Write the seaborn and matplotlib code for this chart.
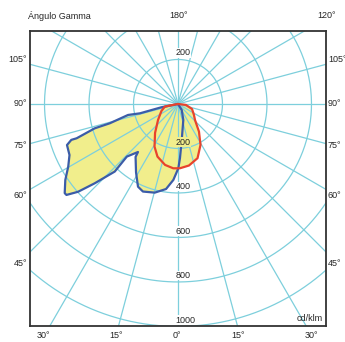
import numpy as np
import pandas as pd
import matplotlib
matplotlib.use('Agg')
import matplotlib.pyplot as plt
import seaborn as sns

# Curva C0-C180 (azul): angulo gamma con signo (negativo = izquierda), intensidad cd/klm
azul_angulo = [-90, -78.8, -76.2, -77.6, -74.2, -73.7, -71.3, -71.4, -69.7, -64.8,
               -60.3, -56.0, -51.8, -50.8, -48.7, -46.4, -43.1, -44.2, -39.8, -38.7,
               -31.5, -25.8, -21.8, -14.7, -8.0, -3.5, 0.3, 2.1, 5.9, 18.3, 31.7, 90]
azul_valor = [0, 76, 176, 230, 318, 390, 481, 506, 532, 539,
              568, 611, 648, 647, 598, 517, 416, 330, 281, 305,
              361, 413, 424, 412, 386, 342, 289, 243, 163, 76, 32, 0]

# Curva C90-C270 (roja)
rojo_angulo = [-90, -79, -67, -51.3, -38.4, -28.8, -21.3, -12.0, -4.2, 1.8,
               10.1, 19.8, 28.8, 37.2, 46.7, 55.5, 70.3, 83, 90]
rojo_valor = [0, 60, 81, 115, 166, 219, 254, 280, 290, 289,
              281, 259, 210, 156, 105, 87, 67, 36, 0]

anillos = [200, 400, 600, 800, 1000, 1200]
etiquetas_anillo = ['200', '400', '600', '800', '1000']
etiquetas_izq = ['105°', '90°', '75°', '60°', '45°']
etiquetas_inf = ['30°', '15°', '0°', '15°', '30°']

COLOR_REJILLA = '#7dcfdc'
COLOR_AZUL = '#3b5ca8'
COLOR_ROJO = '#e8432c'
COLOR_RELLENO = '#f1ee8c'


def a_cartesiano(angulos, valores):
    t = np.radians(np.asarray(angulos, dtype=float))
    r = np.asarray(valores, dtype=float)
    return pd.DataFrame({'x': r * np.sin(t), 'y': -r * np.cos(t)})


sns.set_style('white')
plt.rcParams['font.family'] = ['Liberation Sans', 'DejaVu Sans']

W, H = 345, 342
fig = plt.figure(figsize=(W / 100, H / 100), dpi=100)
ax = fig.add_axes([30 / W, 1 - 326 / H, 296 / W, 295 / H])
ax.set_xlim(-665, 665)
ax.set_ylim(-998, 328)
ax.set_aspect('equal')
ax.set_xticks([])
ax.set_yticks([])
for s in ax.spines.values():
    s.set_color('#333333')
    s.set_linewidth(1.3)
    s.set_zorder(10)

df_azul = a_cartesiano(azul_angulo, azul_valor)
df_rojo = a_cartesiano(rojo_angulo, rojo_valor)

# rellenos amarillos
ax.fill(df_azul['x'], df_azul['y'], color=COLOR_RELLENO, lw=0, zorder=1)
ax.fill(df_rojo['x'], df_rojo['y'], color=COLOR_RELLENO, lw=0, zorder=1)

# rejilla polar
th = np.linspace(0, 2 * np.pi, 400)
for r in anillos:
    ax.plot(r * np.sin(th), r * np.cos(th), color=COLOR_REJILLA, lw=0.9, zorder=2)
for a in range(0, 360, 15):
    t = np.radians(a)
    ax.plot([0, 1600 * np.sin(t)], [0, -1600 * np.cos(t)], color=COLOR_REJILLA,
            lw=0.9, zorder=2)

# curvas
sns.lineplot(data=df_azul, x='x', y='y', sort=False, estimator=None, ax=ax,
             color=COLOR_AZUL, lw=1.6, zorder=3)
sns.lineplot(data=df_rojo, x='x', y='y', sort=False, estimator=None, ax=ax,
             color=COLOR_ROJO, lw=1.6, zorder=4)
ax.set_xlabel('')
ax.set_ylabel('')

# etiquetas de intensidad
fs = 6.5
for i, et in enumerate(etiquetas_anillo):
    r = anillos[i]
    fondo = COLOR_RELLENO if r == 200 else 'white'
    ax.text(-12, -r + 8, et, ha='left', va='bottom', fontsize=fs, zorder=5,
            bbox=dict(facecolor=fondo, edgecolor='none', pad=0.2))
ax.text(-12, 210, '200', ha='left', va='bottom', fontsize=fs, zorder=5,
        bbox=dict(facecolor='white', edgecolor='none', pad=0.2))
ax.text(650, -985, 'cd/klm', ha='right', va='bottom', fontsize=fs, zorder=5)

# textos exteriores (coordenadas en pixeles de la figura)
def ftxt(px, py, s, ha='center'):
    fig.text(px / W, 1 - py / H, s, ha=ha, va='center', fontsize=fs)

ftxt(28, 16, 'Ángulo Gamma', ha='left')
ftxt(179, 16, '180°')
ftxt(327, 16, '120°')
for et, py in zip(etiquetas_izq, [60, 104, 145, 195, 263]):
    ftxt(27, py, et, ha='right')
    ftxt(328, py, et, ha='left')
for et, px in zip(etiquetas_inf, [43, 116, 177, 238, 311]):
    ftxt(px, 335, et)

fig.savefig('out.png', dpi=100)
